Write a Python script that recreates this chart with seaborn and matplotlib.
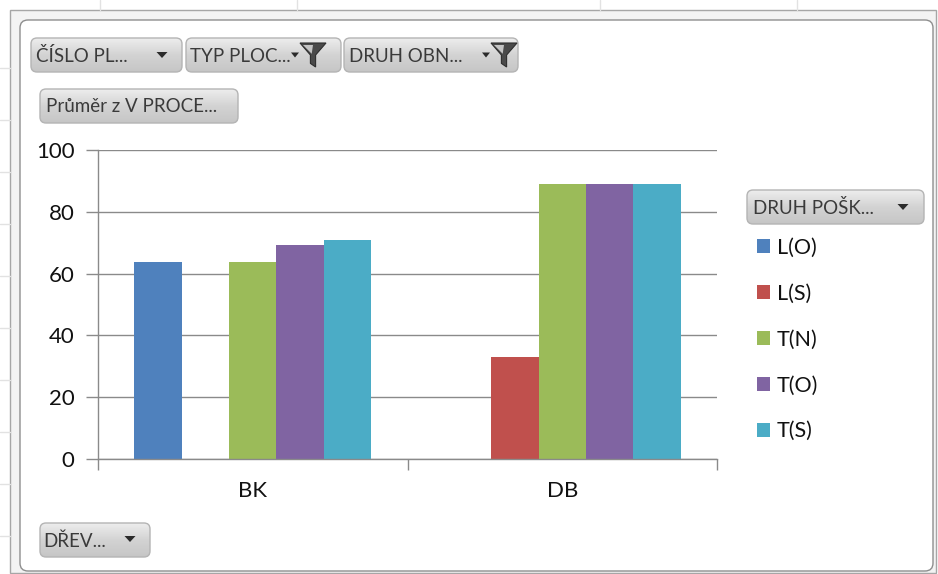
import numpy as np
import pandas as pd
import seaborn as sns
import matplotlib
matplotlib.use("Agg")
import matplotlib.pyplot as plt
from matplotlib.patches import FancyBboxPatch, Rectangle, Polygon

# ---- data -------------------------------------------------------------
categories = ["BK", "DB"]
series = ["L(O)", "L(S)", "T(N)", "T(O)", "T(S)"]
bk_values = [63.8, None, 63.8, 69.4, 70.9]
db_values = [None, 33.0, 88.9, 88.9, 88.9]
colors = ["#4F81BD", "#C0504D", "#9BBB59", "#8064A2", "#4BACC6"]
y_ticks = [0, 20, 40, 60, 80, 100]

filter_buttons = ["ČÍSLO PL...", "TYP PLOC...", "DRUH OBN..."]
value_button = "Průměr z V PROCE..."
legend_button = "DRUH POŠK..."
axis_button = "DŘEV..."

rows = []
for cat, vals in zip(categories, [bk_values, db_values]):
    for s, v in zip(series, vals):
        if v is not None:
            rows.append({"kategorie": cat, "druh": s, "hodnota": v})
df = pd.DataFrame(rows)

# ---- style ------------------------------------------------------------
sns.set_style("white")
plt.rcParams["font.family"] = ["Lato", "DejaVu Sans"]

W, H = 938, 574
fig = plt.figure(figsize=(W / 100, H / 100), dpi=100)
fig.patch.set_facecolor("white")

# pixel-space canvas for the frame and the field buttons
bg = fig.add_axes([0, 0, 1, 1], zorder=0)
bg.set_xlim(0, W)
bg.set_ylim(H, 0)
bg.axis("off")

# worksheet grid peeking out around the chart object
for gx in [100, 297, 600, 797]:
    bg.plot([gx, gx], [0, 10], color="#e2e2e2", lw=1)
for gy in [68, 120, 172, 224, 276, 328, 380, 432, 484, 536]:
    bg.plot([0, 10], [gy, gy], color="#e2e2e2", lw=1)

outer = Rectangle((10, 10), 926, 563, facecolor="#f3f3f3",
                  edgecolor="#a6a6a6", lw=1)
bg.add_patch(outer)
inner = FancyBboxPatch((20, 20), 913, 551,
                       boxstyle="round,pad=0,rounding_size=8",
                       facecolor="white", edgecolor="#8e8e8e", lw=1)
bg.add_patch(inner)

grad = np.linspace(0, 1, 64).reshape(-1, 1)
grad_cmap = matplotlib.colors.LinearSegmentedColormap.from_list(
    "btn", ["#ededed", "#d3d3d3", "#c6c6c6"])


def arrow(cx, cy, w=11, h=6):
    bg.add_patch(Polygon([[cx - w / 2, cy - h / 2], [cx + w / 2, cy - h / 2],
                          [cx, cy + h / 2]], closed=True,
                         facecolor="#2b2b2b", edgecolor="none", zorder=6))


def funnel(x0, y0, w=26, h=24):
    pts = [[x0, y0], [x0 + w, y0], [x0 + w * 0.6, y0 + h * 0.5],
           [x0 + w * 0.6, y0 + h], [x0 + w * 0.4, y0 + h * 0.85],
           [x0 + w * 0.4, y0 + h * 0.5]]
    bg.add_patch(Polygon(pts, closed=True, facecolor="#4a4a4a",
                         edgecolor="#2e2e2e", lw=0.8, zorder=6))
    bg.add_patch(Polygon([[x0 + 3, y0 + 2], [x0 + w * 0.5, y0 + 2],
                          [x0 + w * 0.45, y0 + h * 0.45]], closed=True,
                         facecolor="#c4c4c4", edgecolor="none", zorder=7))


def button(x0, y0, x1, y1, text, tx=6, fontsize=13.5):
    patch = FancyBboxPatch((x0, y0), x1 - x0, y1 - y0,
                           boxstyle="round,pad=0,rounding_size=6",
                           facecolor="none", edgecolor="#b4b4b4", lw=1,
                           zorder=3)
    bg.add_patch(patch)
    im = bg.imshow(grad, cmap=grad_cmap, extent=(x0, x1, y1, y0),
                   aspect="auto", origin="upper", zorder=2)
    im.set_clip_path(patch)
    bg.text(x0 + tx, (y0 + y1) / 2 + 1, text, fontsize=fontsize,
            color="#3a3a3a", ha="left", va="center", zorder=4)


button(31, 38, 182, 72, filter_buttons[0], tx=5)
arrow(162, 55)
button(186, 38, 341, 72, filter_buttons[1], tx=4)
arrow(295, 55, w=8, h=5)
funnel(300, 43)
button(344, 38, 518, 72, filter_buttons[2], tx=5)
arrow(486, 55, w=8, h=5)
funnel(491, 43)
button(40, 89, 238, 123, value_button, tx=6)
button(747, 190, 924, 224, legend_button, tx=6)
arrow(903, 207)
button(40, 523, 150, 557, axis_button, tx=3)
arrow(130, 539)
bg.set_xlim(0, W)
bg.set_ylim(H, 0)

# ---- chart ------------------------------------------------------------
ax = fig.add_axes([98 / W, (H - 459) / H, (717 - 98) / W, (459 - 150) / H],
                  zorder=2)
ax.patch.set_alpha(0)

sns.barplot(data=df, x="kategorie", y="hodnota", hue="druh",
            order=categories, hue_order=series, palette=colors,
            saturation=1, width=0.765, linewidth=0, ax=ax)

ax.set_ylim(0, 100)
ax.set_xlim(-0.5, 1.5)
ax.set_yticks(y_ticks)
ax.set_xticks([0, 1])
ax.set_xticklabels(categories)
ax.set_xticks([-0.5, 0.5, 1.5], minor=True)
ax.set_xlabel("")
ax.set_ylabel("")

grid_c = "#8a8a8a"
ax.yaxis.grid(True, color=grid_c, lw=1)
ax.xaxis.grid(False)
ax.set_axisbelow(True)
for side in ["top", "right"]:
    ax.spines[side].set_visible(False)
for side in ["left", "bottom"]:
    ax.spines[side].set_color(grid_c)
    ax.spines[side].set_linewidth(1)

ax.tick_params(axis="y", which="major", length=9, width=1, color=grid_c,
               pad=8, labelsize=16, labelcolor="#111111", direction="out",
               left=True)
ax.tick_params(axis="x", which="major", length=0, pad=16, labelsize=16,
               labelcolor="#111111")
ax.tick_params(axis="x", which="minor", length=8, width=1, color=grid_c,
               direction="out", bottom=True)

sns.move_legend(ax, "upper left", bbox_to_anchor=(757 / W, 1 - 238 / H),
                bbox_transform=fig.transFigure, frameon=False, title=None,
                fontsize=15.5, borderpad=0, borderaxespad=0,
                handlelength=0.62, handleheight=0.62, handletextpad=0.3,
                labelspacing=1.2)
for t in ax.get_legend().get_texts():
    t.set_color("#111111")

fig.savefig("out.png", dpi=100)
